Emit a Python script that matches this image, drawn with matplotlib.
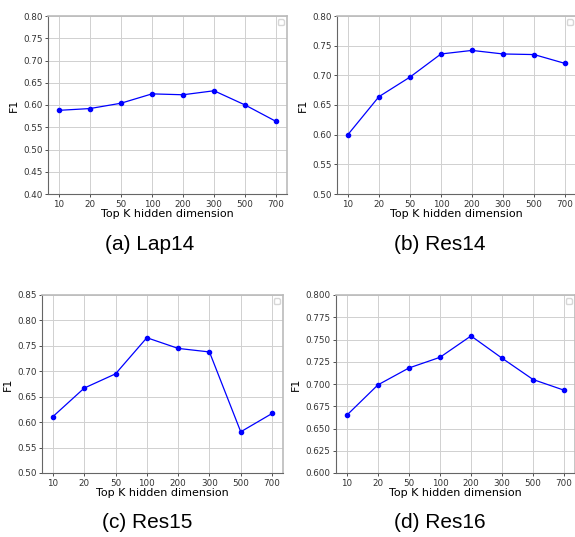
import numpy as np
import matplotlib.pyplot as plt

LINE_COLOUR = "blue"

top_k = ["10", "20", "50", "100", "200", "300", "500", "700"]

lap14 = [0.588, 0.592, 0.604, 0.625, 0.623, 0.632, 0.600, 0.563]
res14 = [0.600, 0.664, 0.697, 0.736, 0.742, 0.736, 0.735, 0.720]
res15 = [0.611, 0.667, 0.695, 0.766, 0.745, 0.738, 0.581, 0.617]
res16 = [0.665, 0.699, 0.718, 0.730, 0.754, 0.729, 0.705, 0.693]

captions = ["(a) Lap14", "(b) Res14", "(c) Res15", "(d) Res16"]
y_ranges = [(0.40, 0.80, 0.05), (0.50, 0.80, 0.05), (0.50, 0.85, 0.05), (0.600, 0.800, 0.025)]
y_formats = ["%.2f", "%.2f", "%.2f", "%.3f"]

fig = plt.figure(figsize=(5.75, 5.37), dpi=100)

# axes boxes in pixels: left, top, right, bottom
boxes = [(48, 16, 287, 194), (337, 16, 576, 194), (42, 295, 283, 473), (336, 295, 575, 473)]
caption_pos = [(150, 245), (440, 245), (147, 522), (440, 522)]

W, H = 575, 537
series = [lap14, res14, res15, res16]

for i in range(4):
    l, t, r, b = boxes[i]
    ax = fig.add_axes([l / W, 1 - b / H, (r - l) / W, (b - t) / H])
    x = np.arange(len(top_k))
    ax.plot(x, series[i], color=LINE_COLOUR, marker="o", markersize=3, linewidth=0.9)
    lo, hi, step = y_ranges[i]
    ticks = np.arange(lo, hi + step / 2, step)
    ax.set_ylim(lo, hi)
    ax.set_yticks(ticks)
    ax.set_yticklabels([y_formats[i] % v for v in ticks])
    ax.set_xticks(x)
    ax.set_xticklabels(top_k)
    ax.tick_params(labelsize=6.3, length=2, width=0.6, pad=2, colors="#333333")
    ax.grid(True, color="#d0d0d0", linewidth=0.7)
    ax.set_axisbelow(True)
    ax.set_xlabel("Top K hidden dimension", fontsize=8, labelpad=0)
    ax.set_ylabel("F1", fontsize=8, labelpad=3)
    for side in ["left", "bottom"]:
        ax.spines[side].set_color("#666666")
        ax.spines[side].set_linewidth(0.8)
    for side in ["top", "right"]:
        ax.spines[side].set_color("#bbbbbb")
        ax.spines[side].set_linewidth(1.2)
    ax.legend(handles=[], loc="upper right", fontsize=5, framealpha=0.8, edgecolor="#cccccc")

    cx, cy = caption_pos[i]
    fig.text(cx / W, 1 - cy / H, captions[i], ha="center", va="center",
             fontsize=15, family="Liberation Sans")

fig.savefig("out.png", dpi=100)
